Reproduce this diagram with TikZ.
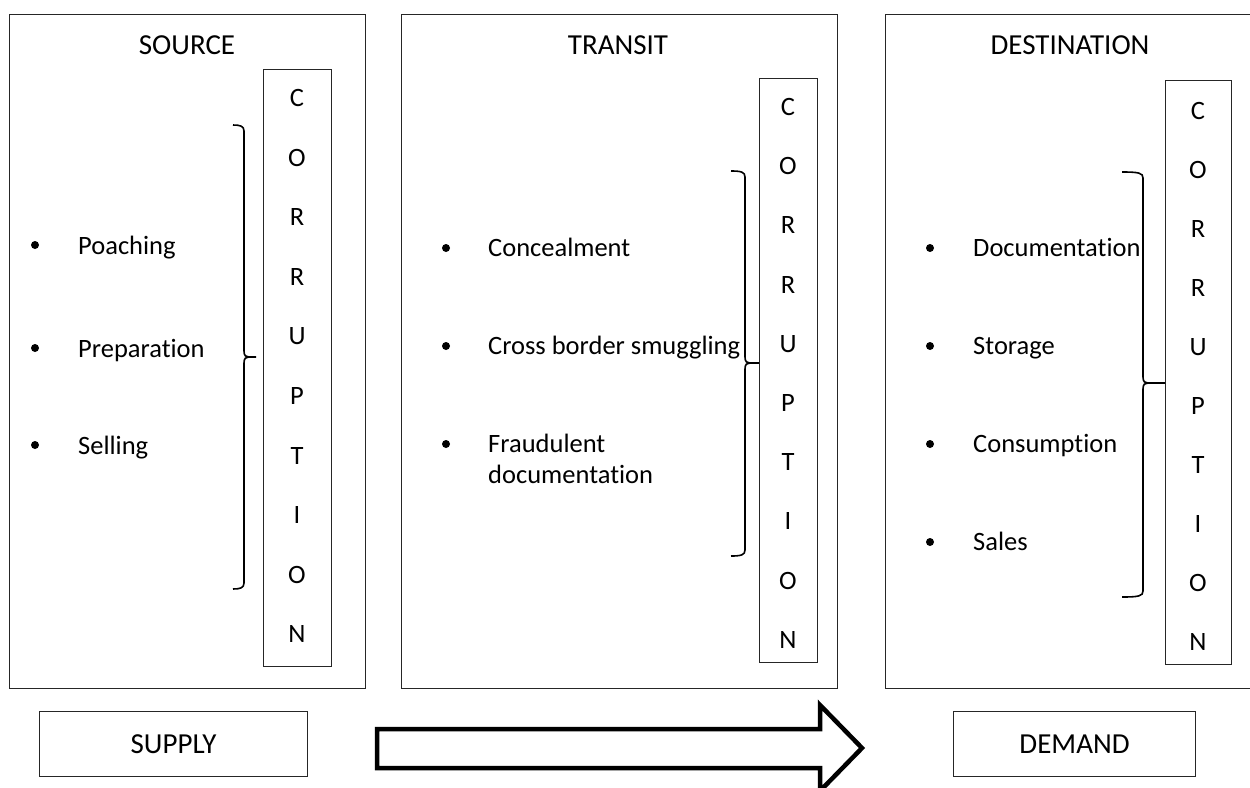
\documentclass[tikz,border=0pt]{standalone}
\usepackage{fontspec}
\setmainfont{Carlito}[RawFeature={-liga;-clig;-calt;-dlig}]
\begin{document}
\begin{tikzpicture}[x=1pt,y=-1pt,
  panel/.style={draw=black!85, line width=1.1pt, anchor=north west, inner sep=0},
  item/.style={font=\fontsize{26.5}{31}\selectfont, inner sep=0, anchor=base west},
  title/.style={font=\fontsize{29}{34}\selectfont, inner sep=0, text height=18.7pt, text depth=0pt},
  letter/.style={font=\fontsize{26.5}{31}\selectfont, inner sep=0, text height=17pt, text depth=0pt},
  dot/.style={circle, fill=black, inner sep=0, minimum size=8pt},
  brace/.style={draw=black, line width=1.6pt},
  bigarrow/.style={draw=black, line width=4.5pt, fill=white, line join=miter}
]
\useasboundingbox (0,0) rectangle (1250,787);

% three stage panels
\node[panel, minimum width=356, minimum height=674] (source) at (9,14) {};
\node[panel, minimum width=436, minimum height=674] (transit) at (401,14) {};
\node[panel, minimum width=380, minimum height=674] (dest) at (885,14) {};

\node[title] (sourcetitle) at (187,45) {SOURCE};
\node[title] (transittitle) at (618,45) {TRANSIT};
\node[title] (desttitle) at (1070,45) {DESTINATION};

% vertical CORRUPTION columns
\node[panel, minimum width=68, minimum height=597] (scol) at (263,69) {};
\node[panel, minimum width=58, minimum height=584] (tcol) at (759,78) {};
\node[panel, minimum width=66, minimum height=584] (dcol) at (1165,80) {};

\foreach \ch [count=\i from 0] in {C,O,R,R,U,P,T,I,O,N} {
  \node[letter] (sc\i) at (297,{98+59.6*\i}) {\ch};
  \node[letter] (tc\i) at (788,{107+59.2*\i}) {\ch};
  \node[letter] (dc\i) at (1198,{111+59.0*\i}) {\ch};
}

% braces joining the lists to the columns
\foreach \n/\xl/\xv/\xt/\yt/\ym/\yb in {s/233/244/256/125/357/589, t/731/745/759/171/363/556, d/1122/1143/1165/172/383/597} {
  \coordinate (\n top) at (\xl,\yt);
  \coordinate (\n tip) at (\xt,\ym);
  \coordinate (\n bot) at (\xl,\yb);
  \draw[brace] (\n top) .. controls ({\xv-4},\yt) and (\xv,{\yt+1}) .. (\xv,{\yt+6})
     -- (\xv,{\ym-6}) .. controls (\xv,{\ym-1}) and ({\xv+2},\ym) .. ({\xv+5},\ym) -- (\n tip)
     ({\xv+5},\ym) .. controls ({\xv+2},\ym) and (\xv,{\ym+1}) .. (\xv,{\ym+6})
     -- (\xv,{\yb-6}) .. controls (\xv,{\yb-1}) and ({\xv-4},\yb) .. (\n bot);
}

% source list
\node[dot] (sb1) at (35,245) {};
\node[dot] (sb2) at (35,348) {};
\node[dot] (sb3) at (35,445) {};
\node[item] (si1) at (78,254) {Poaching};
\node[item] (si2) at (78,357) {Preparation};
\node[item] (si3) at (78,454) {Selling};

% transit list
\node[dot] (tb1) at (446,248) {};
\node[dot] (tb2) at (446,346) {};
\node[dot] (tb3) at (446,444) {};
\node[item] (ti1) at (488,256) {Concealment};
\node[item] (ti2) at (488,354) {Cross border smuggling};
\node[item] (ti3) at (488,452) {Fraudulent};
\node[item] (ti4) at (488,483) {documentation};

% destination list
\node[dot] (db1) at (930,248) {};
\node[dot] (db2) at (930,346) {};
\node[dot] (db3) at (930,444) {};
\node[dot] (db4) at (930,542) {};
\node[item] (di1) at (973,256) {Documentation};
\node[item] (di2) at (973,354) {Storage};
\node[item] (di3) at (973,452) {Consumption};
\node[item] (di4) at (973,550) {Sales};

% supply and demand
\node[panel, minimum width=268, minimum height=65] (supply) at (39,711) {};
\node[title] (supplytext) at (supply.center) {SUPPLY};
\node[panel, minimum width=242, minimum height=65] (demand) at (953,711) {};
\node[title] (demandtext) at (demand.center) {DEMAND};

% block arrow from supply to demand
\draw[bigarrow] (377,729) -- (820,729) -- (820,705) -- (862,748) -- (820,791)
  -- (820,768) -- (377,768) -- cycle;
\end{tikzpicture}
\end{document}
